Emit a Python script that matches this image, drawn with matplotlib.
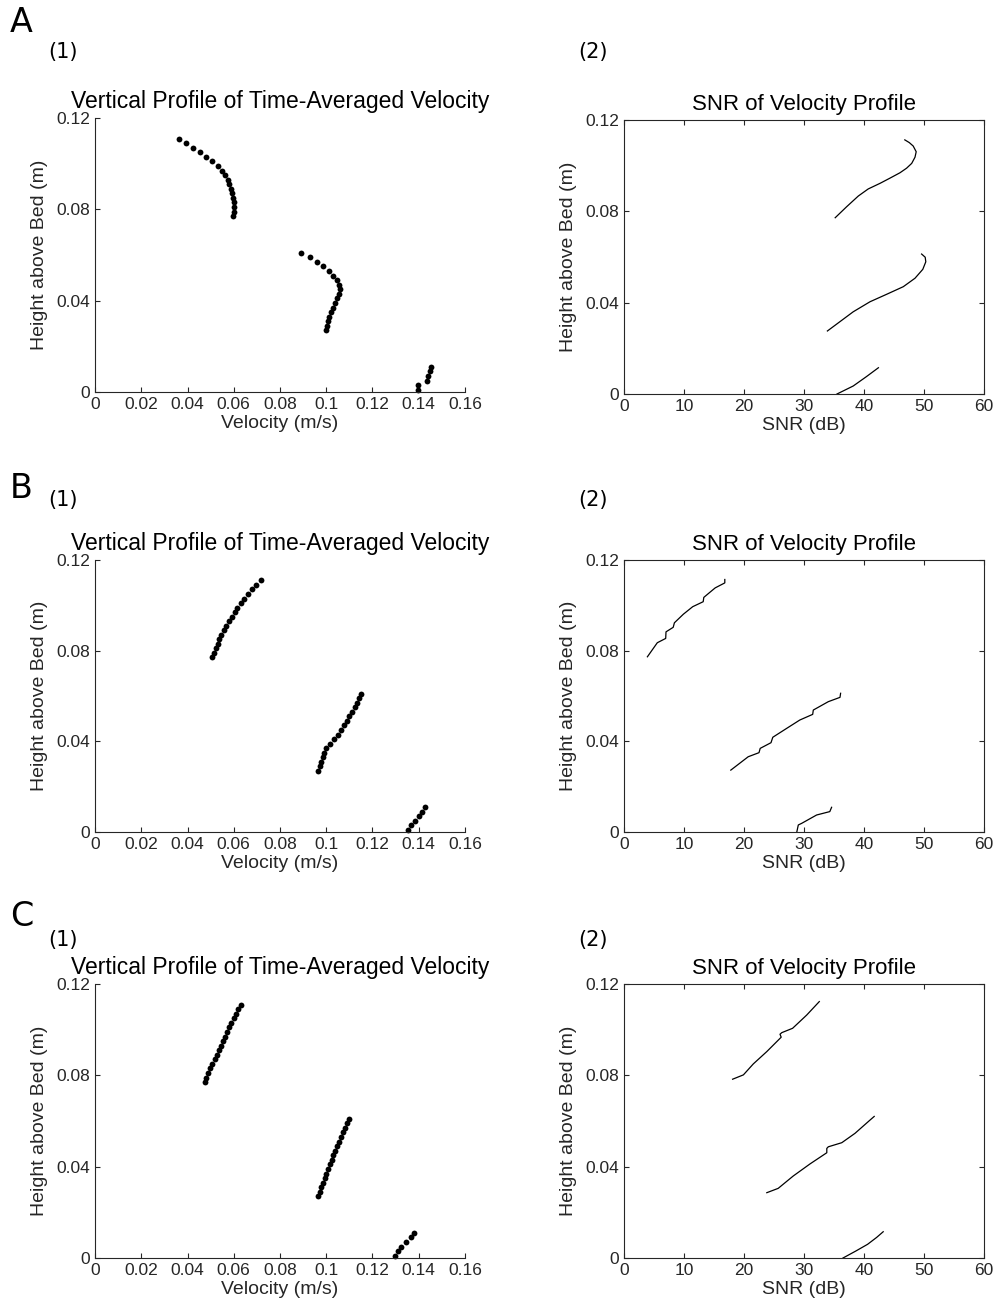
import numpy as np
import matplotlib.pyplot as plt

plt.rcParams["font.family"] = ["Liberation Sans", "DejaVu Sans"]

AX_COLOR = "#262626"

# ---- velocity profiles (m/s) at the sampled heights (m) ----
h_top = [0.111, 0.109, 0.107, 0.105, 0.103, 0.101, 0.099, 0.097, 0.095,
         0.093, 0.091, 0.089, 0.087, 0.085, 0.083, 0.081, 0.079, 0.077]
h_mid = [0.061, 0.059, 0.057, 0.055, 0.053, 0.051, 0.049, 0.047, 0.045,
         0.043, 0.041, 0.039, 0.037, 0.035, 0.033, 0.031, 0.029, 0.027]
h_bot = [0.011, 0.009, 0.007, 0.005, 0.003, 0.001]

vel_a_top = [0.0365, 0.0395, 0.0422, 0.0452, 0.0480, 0.0507, 0.0530, 0.0550, 0.0564,
             0.0573, 0.0580, 0.0586, 0.0591, 0.0595, 0.0599, 0.0601, 0.0600, 0.0597]
vel_a_mid = [0.0890, 0.0928, 0.0958, 0.0985, 0.1010, 0.1028, 0.1046, 0.1055, 0.1058,
             0.1054, 0.1046, 0.1036, 0.1028, 0.1020, 0.1014, 0.1008, 0.1002, 0.0997]
vel_a_bot = [0.1455, 0.1450, 0.1440, 0.1434, 0.1398, 0.1395]

vel_b_top = [0.0717, 0.0697, 0.0680, 0.0660, 0.0643, 0.0630, 0.0616, 0.0604, 0.0592,
             0.0580, 0.0568, 0.0556, 0.0547, 0.0538, 0.0530, 0.0522, 0.0513, 0.0505]
vel_b_mid = [0.1151, 0.1143, 0.1135, 0.1124, 0.1113, 0.1100, 0.1090, 0.1078, 0.1063,
             0.1049, 0.1034, 0.1018, 0.1000, 0.0991, 0.0986, 0.0978, 0.0972, 0.0966]
vel_b_bot = [0.1428, 0.1415, 0.1400, 0.1385, 0.1368, 0.1352]

vel_c_top = [0.0632, 0.0620, 0.0609, 0.0599, 0.0589, 0.0580, 0.0571, 0.0562, 0.0553,
             0.0544, 0.0535, 0.0526, 0.0517, 0.0508, 0.0499, 0.0490, 0.0482, 0.0475]
vel_c_mid = [0.1099, 0.1090, 0.1081, 0.1072, 0.1063, 0.1055, 0.1047, 0.1039, 0.1031,
             0.1023, 0.1016, 0.1008, 0.1000, 0.0993, 0.0986, 0.0979, 0.0972, 0.0966]
vel_c_bot = [0.1380, 0.1365, 0.1345, 0.1325, 0.1310, 0.1297]

# ---- SNR (dB) along each profile ----
snr_a_top = [35.2, 37.1, 39.05, 40.7, 42.7, 44.3, 46.0, 47.1, 47.95, 48.5, 48.7, 48.2, 47.55, 46.8]
snr_a_top_h = [0.0772, 0.0820, 0.0867, 0.0898, 0.0923, 0.0945, 0.0969, 0.0989, 0.1010,
               0.1037, 0.1061, 0.1086, 0.1101, 0.1113]
snr_a_mid = [33.9, 36.0, 38.2, 41.0, 43.8, 46.55, 48.5, 49.8, 50.3, 50.2, 49.6]
snr_a_mid_h = [0.0276, 0.0317, 0.0360, 0.0404, 0.0437, 0.0470, 0.0507, 0.0546, 0.0579, 0.0599, 0.0613]
snr_a_bot = [35.5, 38.2, 40.4, 42.4]
snr_a_bot_h = [0.0, 0.0035, 0.0076, 0.0115]

snr_b_top = [16.8, 16.8, 15.2, 14.2, 13.3, 13.2, 11.45, 9.9, 8.4, 8.2, 7.0, 6.95, 5.55, 3.9]
snr_b_top_h = [0.1114, 0.1099, 0.1077, 0.1055, 0.1035, 0.1016, 0.0994, 0.0961, 0.0923,
               0.0903, 0.0883, 0.0854, 0.0835, 0.0773]
snr_b_mid = [36.1, 36.0, 34.05, 31.55, 31.45, 29.3, 27.1, 24.8, 24.5, 22.7, 22.5, 20.7, 17.8]
snr_b_mid_h = [0.0612, 0.0594, 0.0575, 0.0538, 0.0519, 0.0494, 0.0457, 0.0418, 0.0394,
               0.0369, 0.0350, 0.0332, 0.0273]
snr_b_bot = [34.6, 34.3, 32.1, 29.6, 29.05, 28.8]
snr_b_bot_h = [0.0109, 0.0090, 0.0075, 0.0038, 0.0031, 0.0]

snr_c_top = [32.55, 30.45, 28.1, 26.3, 26.0, 26.2, 23.8, 21.55, 19.9, 18.1]
snr_c_top_h = [0.1123, 0.1064, 0.1006, 0.0987, 0.0980, 0.0967, 0.0904, 0.0850, 0.0802, 0.0783]
snr_c_mid = [41.7, 41.0, 38.5, 36.3, 34.05, 33.8, 33.8, 31.0, 28.2, 25.7, 23.8]
snr_c_mid_h = [0.0620, 0.0604, 0.0546, 0.0505, 0.0487, 0.0480, 0.0461, 0.0412, 0.0359, 0.0305, 0.0286]
snr_c_bot = [36.5, 38.6, 40.6, 42.1, 43.2]
snr_c_bot_h = [0.0, 0.003, 0.006, 0.009, 0.0115]

vel_ticks = [0, 0.02, 0.04, 0.06, 0.08, 0.1, 0.12, 0.14, 0.16]
vel_ticklabels = ["0", "0.02", "0.04", "0.06", "0.08", "0.1", "0.12", "0.14", "0.16"]
snr_ticks = [0, 10, 20, 30, 40, 50, 60]
h_ticks = [0, 0.04, 0.08, 0.12]
h_ticklabels = ["0", "0.04", "0.08", "0.12"]

rows = [
    ("A", [vel_a_top, vel_a_mid, vel_a_bot],
     [(snr_a_top, snr_a_top_h), (snr_a_mid, snr_a_mid_h), (snr_a_bot, snr_a_bot_h)]),
    ("B", [vel_b_top, vel_b_mid, vel_b_bot],
     [(snr_b_top, snr_b_top_h), (snr_b_mid, snr_b_mid_h), (snr_b_bot, snr_b_bot_h)]),
    ("C", [vel_c_top, vel_c_mid, vel_c_bot],
     [(snr_c_top, snr_c_top_h), (snr_c_mid, snr_c_mid_h), (snr_c_bot, snr_c_bot_h)]),
]

W, H = 1006, 1316
# pixel boxes (left, top, right, bottom) of the axes
vel_boxes = [(95, 118, 465, 392), (95, 560, 465, 832), (95, 984, 465, 1258)]
snr_boxes = [(624, 120, 984, 394), (624, 560, 984, 832), (624, 984, 984, 1258)]
row_letter_y = [22, 488, 916]
row_sub_y = [52, 500, 940]


def px_axes(fig, box):
    l, t, r, b = box
    return fig.add_axes([l / W, 1 - b / H, (r - l) / W, (b - t) / H])


def style_axes(ax, box_on):
    for side in ["left", "bottom", "top", "right"]:
        ax.spines[side].set_color(AX_COLOR)
        ax.spines[side].set_linewidth(0.8)
    if not box_on:
        ax.spines["top"].set_visible(False)
        ax.spines["right"].set_visible(False)
    ax.tick_params(direction="in", length=3.5, width=0.8, colors=AX_COLOR,
                   labelsize=12.5, top=box_on, right=box_on)
    ax.set_ylim(0, 0.12)
    ax.set_yticks(h_ticks)
    ax.set_yticklabels(h_ticklabels)
    ax.set_ylabel("Height above Bed (m)", fontsize=14, color=AX_COLOR, labelpad=6)


fig = plt.figure(figsize=(W / 100, H / 100), dpi=100)

for i, (letter, vel_groups, snr_groups) in enumerate(rows):
    fig.text(10 / W, 1 - row_letter_y[i] / H, letter, fontsize=24,
             family="DejaVu Sans", va="center", ha="left")
    fig.text(48 / W, 1 - row_sub_y[i] / H, "(1)", fontsize=15,
             family="DejaVu Sans", va="center", ha="left")
    fig.text(578 / W, 1 - row_sub_y[i] / H, "(2)", fontsize=15,
             family="DejaVu Sans", va="center", ha="left")

    ax1 = px_axes(fig, vel_boxes[i])
    for v, h in zip(vel_groups, [h_top, h_mid, h_bot]):
        ax1.plot(v, h, "o", color="black", ms=4.2, mew=0, clip_on=False)
    style_axes(ax1, box_on=False)
    ax1.set_xlim(0, 0.16)
    ax1.set_xticks(vel_ticks)
    ax1.set_xticklabels(vel_ticklabels)
    ax1.set_xlabel("Velocity (m/s)", fontsize=14, color=AX_COLOR, labelpad=2)
    ax1.set_title("Vertical Profile of Time-Averaged Velocity", fontsize=16.5, pad=7)

    ax2 = px_axes(fig, snr_boxes[i])
    for s, h in snr_groups:
        ax2.plot(s, h, "-", color="black", lw=0.9)
    style_axes(ax2, box_on=True)
    ax2.set_xlim(0, 60)
    ax2.set_xticks(snr_ticks)
    ax2.set_xlabel("SNR (dB)", fontsize=14, color=AX_COLOR, labelpad=2)
    ax2.set_title("SNR of Velocity Profile", fontsize=16, pad=7)

fig.savefig("out.png", dpi=100)
